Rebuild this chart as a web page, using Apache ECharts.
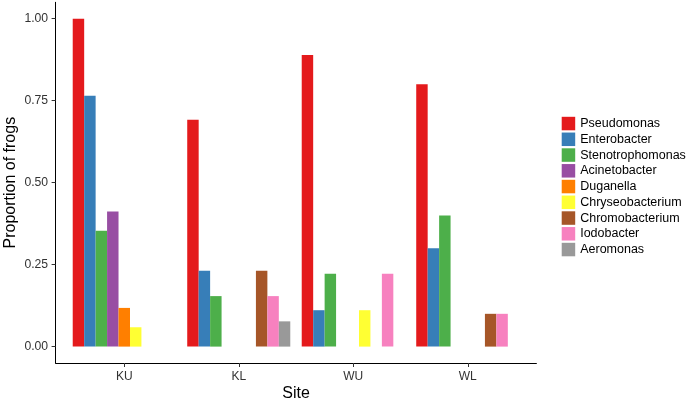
<!DOCTYPE html>
<html><head><meta charset="utf-8">
<script src="https://cdn.jsdelivr.net/npm/echarts@6/dist/echarts.min.js"></script>
<style>html,body{margin:0;padding:0;background:#fff}#c{width:688px;height:401px}</style>
</head><body><div id="c"></div>
<script>
var sites = ['KU', 'KL', 'WU', 'WL'];
var taxa = ['Pseudomonas', 'Enterobacter', 'Stenotrophomonas', 'Acinetobacter', 'Duganella', 'Chryseobacterium', 'Chromobacterium', 'Iodobacter', 'Aeromonas'];
var colors = ['#E41A1C', '#377EB8', '#4DAF4A', '#984EA3', '#FF7F00', '#FFFF33', '#A65628', '#F781BF', '#999999'];
// values per taxon, ordered by sites (null = absent)
var pseudomonas = [1.000, 0.692, 0.889, 0.800];
var enterobacter = [0.765, 0.231, 0.111, 0.300];
var stenotrophomonas = [0.353, 0.154, 0.222, 0.400];
var acinetobacter = [0.412, null, null, null];
var duganella = [0.118, null, null, null];
var chryseobacterium = [0.059, null, 0.111, null];
var chromobacterium = [null, 0.231, null, 0.100];
var iodobacter = [null, 0.154, 0.222, 0.100];
var aeromonas = [null, 0.077, null, null];
var yTicks = [0, 0.25, 0.5, 0.75, 1.0];

var values = [pseudomonas, enterobacter, stenotrophomonas, acinetobacter, duganella, chryseobacterium, chromobacterium, iodobacter, aeromonas];
var font = 'Liberation Sans, Arial, Helvetica, sans-serif';
var chart = echarts.init(document.getElementById('c'), null, {renderer: 'canvas'});
var series = taxa.map(function (t, i) {
  return {
    name: t, type: 'bar', xAxisIndex: 1, yAxisIndex: 1,
    data: values[i], barGap: '0%', barCategoryGap: '10%',
    itemStyle: {color: colors[i]}, emphasis: {disabled: true}
  };
});
chart.setOption({
  animation: false,
  textStyle: {fontFamily: font},
  grid: [
    {left: 55.6, right: 151.6, top: 2.3, bottom: 38, outerBoundsMode: 'none', containLabel: false},
    {left: 67, right: 163, top: 2.3, bottom: 38, outerBoundsMode: 'none', containLabel: false}
  ],
  xAxis: [
    {type: 'value', gridIndex: 0, min: 0.4, max: 4.6,
     axisLine: {show: true, onZero: false, lineStyle: {color: '#000', width: 1}},
     axisTick: {show: false}, axisLabel: {show: false}, splitLine: {show: false},
     name: 'Site', nameLocation: 'middle', nameGap: 22.5, nameMoveOverlap: false,
     nameTextStyle: {fontSize: 16, color: '#000', fontFamily: font}},
    {type: 'category', gridIndex: 1, data: sites,
     axisLine: {show: false, onZero: false},
     axisTick: {show: true, alignWithLabel: true, length: 4, lineStyle: {color: '#333'}},
     axisLabel: {fontSize: 12, color: '#333', margin: 7.5, fontFamily: font}}
  ],
  yAxis: [
    {type: 'value', gridIndex: 0, min: -0.05, max: 1.05,
     axisLine: {show: true, onZero: false, lineStyle: {color: '#000', width: 1}},
     axisTick: {show: true, length: 4, customValues: yTicks, lineStyle: {color: '#333'}},
     axisLabel: {show: true, customValues: yTicks, fontSize: 12.2, color: '#333', margin: 7.5,
       fontFamily: font, formatter: function (v) { return v.toFixed(2); }},
     splitLine: {show: false},
     name: 'Proportion of frogs', nameLocation: 'middle', nameRotate: 90, nameGap: 37, nameMoveOverlap: false,
     nameTextStyle: {fontSize: 16, color: '#000', fontFamily: font}},
    {type: 'value', gridIndex: 1, min: -0.05, max: 1.05, show: false, splitLine: {show: false},
     axisLine: {onZero: false}}
  ],
  legend: {
    orient: 'vertical', left: 556.7, top: 111.8,
    itemWidth: 13.5, itemHeight: 13.5, itemGap: 2.25, icon: 'rect',
    textStyle: {fontSize: 12.5, lineHeight: 13.5, color: '#000', fontFamily: font, padding: [0, 0, 0, 0]},
    data: taxa, selectedMode: false
  },
  series: series
});
</script></body></html>
